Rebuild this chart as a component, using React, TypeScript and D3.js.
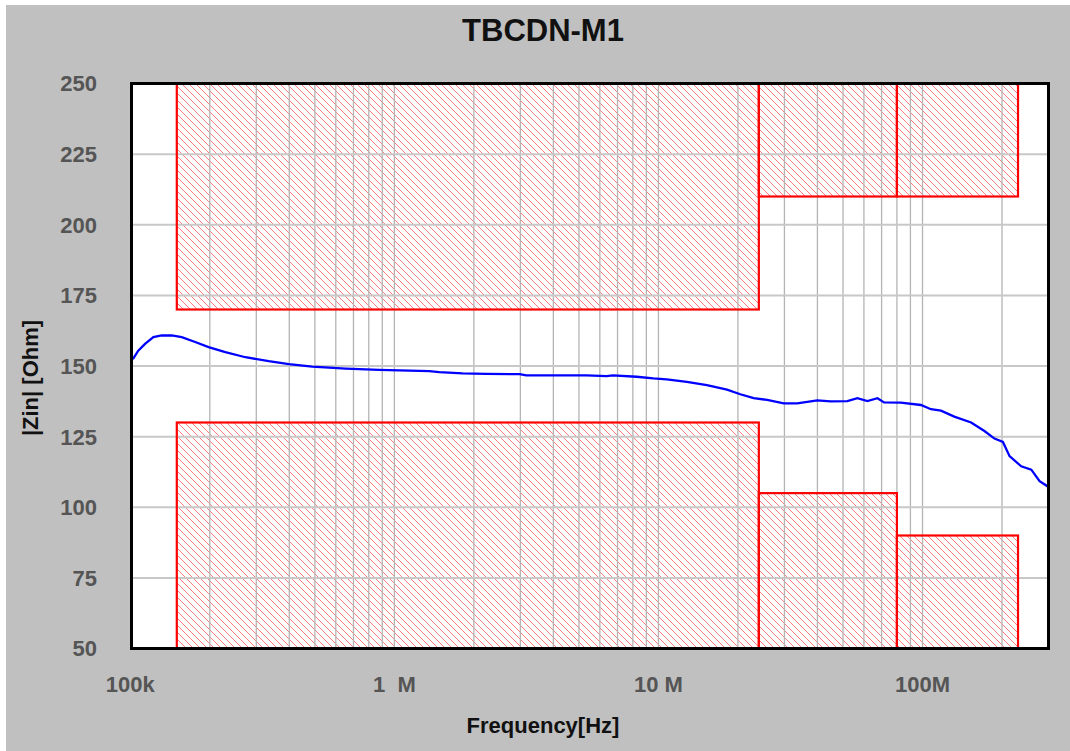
import {scaleLinear, scaleLog, line} from "d3";

// measured impedance curve
const freqHz = [
    1.0e5, 1.027e5, 1.072e5, 1.137e5, 1.223e5, 1.315e5, 1.435e5, 1.566e5, 1.761e5, 1.979e5,
    2.29e5, 2.728e5, 3.344e5, 3.984e5, 4.884e5, 6.542e5, 8.753e5, 1.356e6, 1.48e6, 1.814e6,
    2.226e6, 2.98e6, 3.158e6, 5.341e6, 6.363e6, 6.722e6, 8.273e6, 9.564e6, 1.075e7, 1.281e7,
    1.526e7, 1.818e7, 2.042e7, 2.294e7, 2.579e7, 2.982e7, 3.353e7, 3.994e7, 4.487e7, 5.193e7,
    5.667e7, 6.185e7, 6.751e7, 7.152e7, 8.278e7, 9.861e7, 1.076e8, 1.175e8, 1.319e8, 1.528e8,
    1.716e8, 1.873e8, 2.016e8, 2.136e8, 2.365e8, 2.582e8, 2.776e8, 3.0e8
];
const zinOhm = [
    152.5, 152.7, 155.4, 157.8, 160.2, 160.8, 160.8, 160.2, 158.5, 156.7,
    154.9, 153.1, 151.7, 150.7, 149.8, 149.1, 148.6, 148.2, 147.8, 147.4,
    147.2, 147.1, 146.7, 146.7, 146.4, 146.7, 146.2, 145.6, 145.3, 144.4,
    143.2, 141.6, 140.0, 138.6, 138.0, 136.8, 136.8, 137.8, 137.5, 137.6,
    138.6, 137.6, 138.6, 137.1, 137.0, 136.2, 134.7, 134.2, 132.1, 130.0,
    127.0, 124.3, 123.1, 118.1, 114.5, 113.3, 109.2, 107.2
];

// limit bands (IEC 61000-4-6 CDN impedance tolerance)
const bandEdges = [150e3, 24e6, 80e6, 230e6];
const upperLimit = [170, 210, 210];
const lowerLimit = [130, 105, 90];

const yTicks = [50, 75, 100, 125, 150, 175, 200, 225, 250];
const xTickValues = [1e5, 1e6, 1e7, 1e8];
const xTickLabels = ["100k", "1  M", "10 M", "100M"];

const W = 1070, H = 751;
const left = 130.3, right = 1048.5, top = 83.5, bottom = 648.5;
const font = "'Liberation Sans', Arial, sans-serif";

export default function App() {
    const x = scaleLog().domain([1e5, 3e8]).range([left, right]);
    const y = scaleLinear().domain([50, 250]).range([bottom, top]);
    const path = line<number>()
        .x((_, i) => x(freqHz[i]))
        .y(d => y(d))(zinOhm) ?? "";
    const gridX = x.ticks();

    return <svg width={W} height={H} style={{position: "absolute", left: 0, top: 0}}>
        <defs>
            <pattern id="hatch" patternUnits="userSpaceOnUse" width={7} height={7}>
                <path d="M-1,-1 L8,8 M-1,6 L1,8 M6,-1 L8,1" stroke="#ff5a5a" strokeWidth={1} opacity={0.8}/>
            </pattern>
            <clipPath id="plot">
                <rect x={left} y={top} width={right - left} height={bottom - top}/>
            </clipPath>
        </defs>
        <rect width={W} height={H} fill="#ffffff"/>
        <rect x={6} y={5} width={W - 6} height={H - 5} fill="#c0c0c0"/>
        <rect x={left} y={top} width={right - left} height={bottom - top} fill="#ffffff"/>

        <g clipPath="url(#plot)">
            {upperLimit.map((v, i) => (
                <rect key={`uh${i}`} x={x(bandEdges[i])} y={top - 10}
                      width={x(bandEdges[i + 1]) - x(bandEdges[i])} height={y(v) - top + 10}
                      fill="url(#hatch)"/>
            ))}
            {lowerLimit.map((v, i) => (
                <rect key={`lh${i}`} x={x(bandEdges[i])} y={y(v)}
                      width={x(bandEdges[i + 1]) - x(bandEdges[i])} height={bottom - y(v) + 10}
                      fill="url(#hatch)"/>
            ))}
            {gridX.map((t, i) => (
                <line key={`gx${i}`} x1={x(t)} x2={x(t)} y1={top} y2={bottom} stroke="#b4b4b4" strokeWidth={1.3}/>
            ))}
            {yTicks.map((t, i) => (
                <line key={`gy${i}`} x1={left} x2={right} y1={y(t)} y2={y(t)} stroke="#c8c8c8" strokeWidth={2}/>
            ))}
            {upperLimit.map((v, i) => (
                <rect key={`uo${i}`} x={x(bandEdges[i])} y={top - 10}
                      width={x(bandEdges[i + 1]) - x(bandEdges[i])} height={y(v) - top + 10}
                      fill="none" stroke="#ff0000" strokeWidth={2.2}/>
            ))}
            {lowerLimit.map((v, i) => (
                <rect key={`lo${i}`} x={x(bandEdges[i])} y={y(v)}
                      width={x(bandEdges[i + 1]) - x(bandEdges[i])} height={bottom - y(v) + 10}
                      fill="none" stroke="#ff0000" strokeWidth={2.2}/>
            ))}
            <path d={path} fill="none" stroke="#0000ff" strokeWidth={2.3}/>
        </g>

        <rect x={131.5} y={83.5} width={917} height={565} fill="none" stroke="#000000" strokeWidth={3}/>

        {yTicks.map((t, i) => (
            <text key={`yl${i}`} x={97} y={y(t)} dy="0.36em" textAnchor="end"
                  fontFamily={font} fontWeight="bold" fontSize={22} fill="#555555">{t}</text>
        ))}
        {xTickValues.map((t, i) => (
            <text key={`xl${i}`} x={x(t)} y={692} textAnchor="middle" style={{whiteSpace: "pre"}}
                  fontFamily={font} fontWeight="bold" fontSize={22} fill="#555555">{xTickLabels[i]}</text>
        ))}
        <text x={543} y={41} textAnchor="middle" fontFamily={font} fontWeight="bold" fontSize={31}
              fill="#111111">TBCDN-M1</text>
        <text x={543} y={733} textAnchor="middle" fontFamily={font} fontWeight="bold" fontSize={22}
              fill="#111111">Frequency[Hz]</text>
        <text transform="translate(38,378) rotate(-90)" textAnchor="middle" fontFamily={font}
              fontWeight="bold" fontSize={22} fill="#111111">|Zin| [Ohm]</text>
    </svg>;
}
